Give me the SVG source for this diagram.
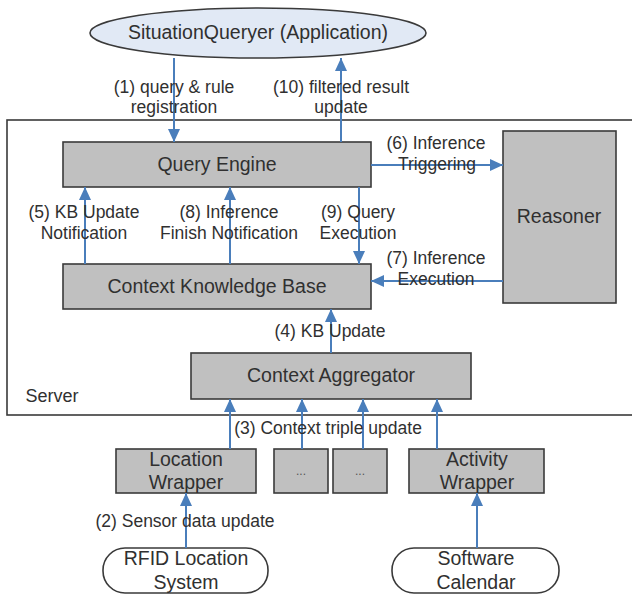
<svg xmlns="http://www.w3.org/2000/svg" width="632" height="598" viewBox="0 0 632 598">
<defs>
<marker id="ah" markerUnits="userSpaceOnUse" markerWidth="14" markerHeight="12" refX="13" refY="6" orient="auto">
<path d="M0,0 L13,6 L0,12 Z" fill="#4a7ebb"/>
</marker>
</defs>
<style>
text{font-family:"Liberation Sans",Arial,sans-serif;fill:#303030;text-anchor:middle}
.n{font-size:19.5px}
.e{font-size:17.5px}
.box{fill:#c0c0c0;stroke:#3a3a3a;stroke-width:1.6}
.term{fill:#ffffff;stroke:#3a3a3a;stroke-width:1.6}
.conn line{stroke:#4a7ebb;stroke-width:2;marker-end:url(#ah)}
.dots{font-size:12px;fill:#555}
</style>
<rect width="632" height="598" fill="#ffffff"/>
<g id="server">
<rect x="7" y="120" width="640" height="295" fill="none" stroke="#3a3a3a" stroke-width="1.6"/>
<text x="52" y="402" class="n" style="font-size:18px">Server</text>
</g>
<g id="app">
<ellipse cx="258" cy="33" rx="168" ry="25" fill="#e1e9f5" stroke="#3a3a3a" stroke-width="1.6"/>
<text x="258" y="39" class="n">SituationQueryer (Application)</text>
</g>
<g id="query-engine">
<rect class="box" x="63" y="142" width="308" height="45"/>
<text x="217" y="171" class="n">Query Engine</text>
</g>
<g id="reasoner">
<rect class="box" x="503" y="131" width="113" height="172"/>
<text x="559" y="223" class="n">Reasoner</text>
</g>
<g id="ckb">
<rect class="box" x="63" y="264" width="308" height="45"/>
<text x="217" y="293" class="n">Context Knowledge Base</text>
</g>
<g id="aggregator">
<rect class="box" x="191" y="353" width="280" height="46"/>
<text x="331" y="382" class="n">Context Aggregator</text>
</g>
<g id="location-wrapper">
<rect class="box" x="116" y="449" width="140" height="44"/>
<text x="186" y="466" class="n">Location</text>
<text x="186" y="489" class="n">Wrapper</text>
</g>
<g id="wrapper-2">
<rect class="box" x="274" y="449" width="54" height="44"/>
<text x="301" y="475" class="dots">...</text>
</g>
<g id="wrapper-3">
<rect class="box" x="333" y="449" width="54" height="44"/>
<text x="360" y="475" class="dots">...</text>
</g>
<g id="activity-wrapper">
<rect class="box" x="409" y="449" width="135" height="44"/>
<text x="477" y="466" class="n">Activity</text>
<text x="477" y="489" class="n">Wrapper</text>
</g>
<g id="rfid">
<rect class="term" x="103" y="548" width="165" height="45" rx="22" ry="22"/>
<text x="186" y="565" class="n">RFID Location</text>
<text x="186" y="589" class="n">System</text>
</g>
<g id="calendar">
<rect class="term" x="392" y="548" width="167" height="45" rx="22" ry="22"/>
<text x="476" y="565" class="n">Software</text>
<text x="476" y="589" class="n">Calendar</text>
</g>
<g id="connectors" class="conn">
<line x1="174" y1="58" x2="174" y2="142"/>
<line x1="341" y1="142" x2="341" y2="58"/>
<line x1="371" y1="165" x2="503" y2="165"/>
<line x1="85" y1="264" x2="85" y2="187"/>
<line x1="230" y1="264" x2="230" y2="187"/>
<line x1="359" y1="187" x2="359" y2="264"/>
<line x1="503" y1="281" x2="371" y2="281"/>
<line x1="331" y1="353" x2="331" y2="309"/>
<line x1="230" y1="449" x2="230" y2="399"/>
<line x1="302" y1="449" x2="302" y2="399"/>
<line x1="363" y1="449" x2="363" y2="399"/>
<line x1="437" y1="449" x2="437" y2="399"/>
<line x1="186" y1="548" x2="186" y2="493"/>
<line x1="477" y1="548" x2="477" y2="493"/>
</g>
<g id="labels">
<text x="174" y="93" class="e">(1) query &amp; rule</text>
<text x="174" y="113" class="e">registration</text>
<text x="341" y="93" class="e">(10) filtered result</text>
<text x="341" y="113" class="e">update</text>
<text x="436" y="149" class="e">(6) Inference</text>
<text x="437" y="170" class="e">Triggering</text>
<text x="84" y="218" class="e">(5) KB Update</text>
<text x="84" y="239" class="e">Notification</text>
<text x="229" y="218" class="e">(8) Inference</text>
<text x="229" y="239" class="e">Finish Notification</text>
<text x="358" y="218" class="e">(9) Query</text>
<text x="358" y="239" class="e">Execution</text>
<text x="436" y="264" class="e">(7) Inference</text>
<text x="436" y="285" class="e">Execution</text>
<text x="330" y="337" class="e">(4) KB Update</text>
<text x="328" y="434" class="e">(3) Context triple update</text>
<text x="185" y="527" class="e">(2) Sensor data update</text>
</g>
</svg>
